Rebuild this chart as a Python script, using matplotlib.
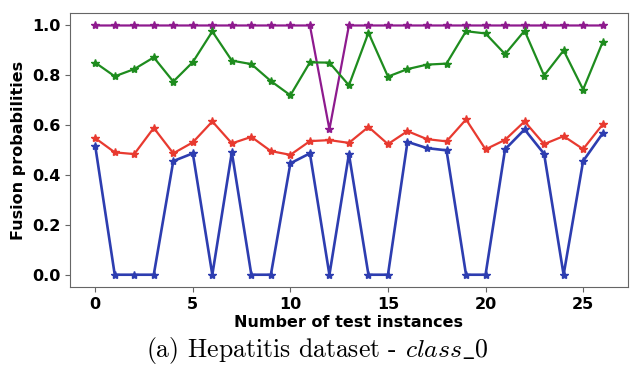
import numpy as np
import matplotlib.pyplot as plt

# Probabilidades de fusao por instancia de teste
instancias = np.arange(27)
prob_roxo = [1.0]*12 + [0.583] + [1.0]*14
prob_verde = [0.851, 0.796, 0.825, 0.872, 0.775, 0.853, 0.976, 0.859, 0.845, 0.777,
              0.720, 0.852, 0.851, 0.760, 0.971, 0.795, 0.825, 0.843, 0.847, 0.977,
              0.968, 0.885, 0.979, 0.799, 0.900, 0.743, 0.933]
prob_vermelho = [0.548, 0.491, 0.484, 0.589, 0.487, 0.531, 0.615, 0.527, 0.553, 0.496,
                 0.481, 0.536, 0.540, 0.529, 0.593, 0.524, 0.576, 0.544, 0.535, 0.623,
                 0.503, 0.541, 0.615, 0.524, 0.556, 0.504, 0.603]
prob_azul = [0.517, 0.0, 0.0, 0.0, 0.456, 0.487, 0.0, 0.491, 0.0, 0.0,
             0.447, 0.487, 0.0, 0.484, 0.0, 0.0, 0.533, 0.508, 0.499, 0.0,
             0.0, 0.503, 0.583, 0.485, 0.0, 0.456, 0.567]

plt.rcParams['mathtext.fontset'] = 'cm'
plt.rcParams['axes.formatter.use_mathtext'] = False

fig = plt.figure(figsize=(6.35, 3.72), dpi=100)
ax = fig.add_axes([0.110, 0.228, 0.879, 0.737])

ax.plot(instancias, prob_roxo, color='#8e1a8e', marker='*', markersize=6, linewidth=1.6)
ax.plot(instancias, prob_verde, color='#1e8c1e', marker='*', markersize=6, linewidth=1.6)
ax.plot(instancias, prob_vermelho, color='#e83a30', marker='*', markersize=6, linewidth=1.6)
ax.plot(instancias, prob_azul, color='#2d3db0', marker='*', markersize=6, linewidth=1.9)

ax.set_xticks([0, 5, 10, 15, 20, 25])
ax.set_yticks([0.0, 0.2, 0.4, 0.6, 0.8, 1.0])
for lab in ax.get_xticklabels() + ax.get_yticklabels():
    lab.set_fontweight('bold')
    lab.set_fontsize(11.5)
ax.set_xlabel('Number of test instances', fontsize=11.5, fontweight='bold', labelpad=2)
ax.set_ylabel('Fusion probabilities', fontsize=11.5, fontweight='bold')
for s in ax.spines.values():
    s.set_color('#666666')
ax.tick_params(color='#666666')

fig.text(0.5, 0.058, r'(a) Hepatitis dataset - $class\_0$',
         ha='center', va='center', fontsize=18.5, family='cmr10')

plt.savefig('out.png')
